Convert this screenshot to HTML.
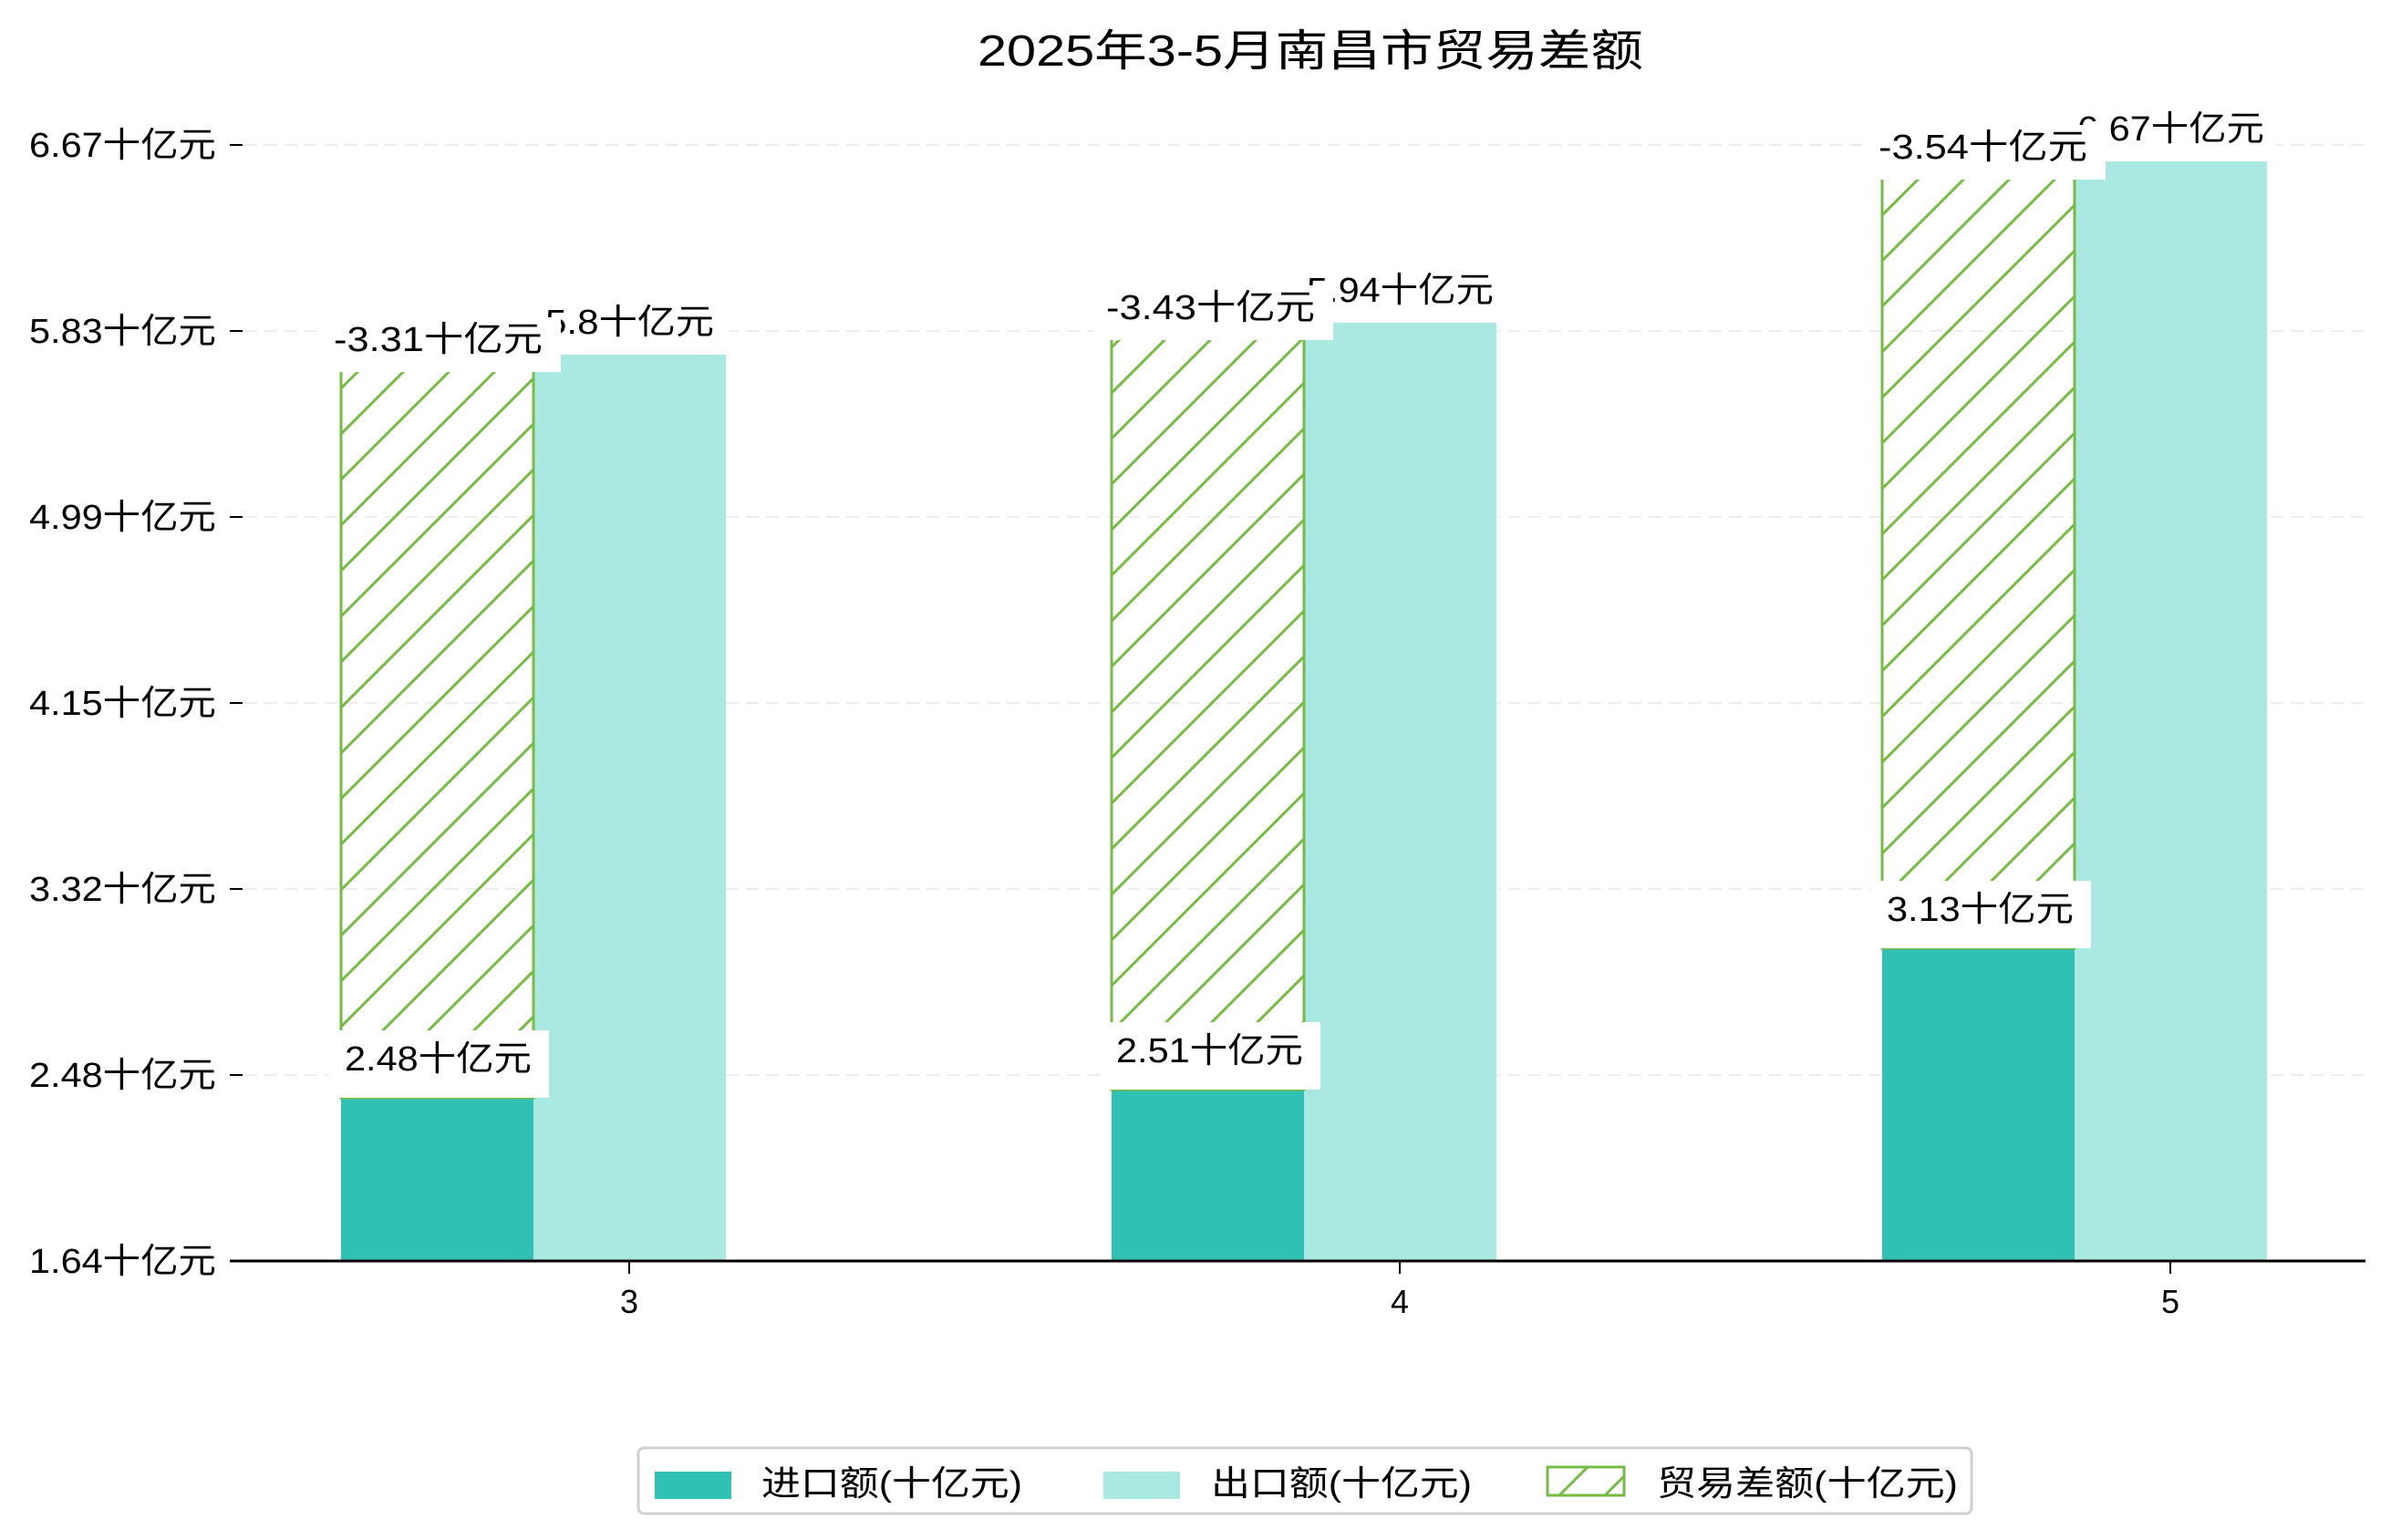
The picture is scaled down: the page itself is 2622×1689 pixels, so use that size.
<!DOCTYPE html>
<html><head><meta charset="utf-8"><style>
html,body{margin:0;padding:0;background:#fff;}
svg{display:block;}
text{font-family:"Liberation Sans","Noto Sans CJK SC",sans-serif;fill:#000;}
</style></head><body>
<svg width="2622" height="1689" viewBox="0 0 2622 1689" xmlns="http://www.w3.org/2000/svg">
<defs>
<pattern id="h" patternUnits="userSpaceOnUse" width="50" height="50">
<line x1="-5" y1="55" x2="55" y2="-5" stroke="#76bb43" stroke-width="3"/>
<line x1="-30" y1="30" x2="30" y2="-30" stroke="#76bb43" stroke-width="3"/>
<line x1="20" y1="80" x2="80" y2="20" stroke="#76bb43" stroke-width="3"/>
</pattern>
</defs>
<rect width="2622" height="1689" fill="#fff"/>
<text x="1072" y="72" font-size="48" textLength="730" lengthAdjust="spacingAndGlyphs">2025年3-5月南昌市贸易差额</text>
<g stroke="#eeeeee" stroke-width="2" stroke-dasharray="14,8">
<line x1="268" y1="159" x2="2594" y2="159"/>
<line x1="268" y1="363" x2="2594" y2="363"/>
<line x1="268" y1="567" x2="2594" y2="567"/>
<line x1="268" y1="771" x2="2594" y2="771"/>
<line x1="268" y1="975" x2="2594" y2="975"/>
<line x1="268" y1="1179" x2="2594" y2="1179"/>
</g>
<g stroke="#000" stroke-width="2">
<line x1="252" y1="159" x2="266" y2="159"/>
<line x1="252" y1="363" x2="266" y2="363"/>
<line x1="252" y1="567" x2="266" y2="567"/>
<line x1="252" y1="771" x2="266" y2="771"/>
<line x1="252" y1="975" x2="266" y2="975"/>
<line x1="252" y1="1179" x2="266" y2="1179"/>
<line x1="252" y1="1383" x2="266" y2="1383"/>
</g>
<g font-size="38">
<text x="32" y="172" textLength="205" lengthAdjust="spacingAndGlyphs">6.67十亿元</text>
<text x="32" y="376" textLength="205" lengthAdjust="spacingAndGlyphs">5.83十亿元</text>
<text x="32" y="580" textLength="205" lengthAdjust="spacingAndGlyphs">4.99十亿元</text>
<text x="32" y="784" textLength="205" lengthAdjust="spacingAndGlyphs">4.15十亿元</text>
<text x="32" y="988" textLength="205" lengthAdjust="spacingAndGlyphs">3.32十亿元</text>
<text x="32" y="1192" textLength="205" lengthAdjust="spacingAndGlyphs">2.48十亿元</text>
<text x="32" y="1396" textLength="205" lengthAdjust="spacingAndGlyphs">1.64十亿元</text>
</g>
<g fill="#31c1b4">
<rect x="374" y="1204" width="211" height="179"/>
<rect x="1219" y="1195" width="211" height="188"/>
<rect x="2064" y="1040" width="211" height="343"/>
</g>
<g fill="#aae8e2">
<rect x="585" y="389" width="211" height="994"/>
<rect x="1430" y="354" width="211" height="1029"/>
<rect x="2275" y="177" width="211" height="1206"/>
</g>
<g fill="url(#h)" stroke="#76bb43" stroke-width="3">
<rect x="374" y="389" width="211" height="815"/>
<rect x="1219" y="354" width="211" height="841"/>
<rect x="2064" y="177" width="211" height="863"/>
</g>
<g font-size="38">
<rect x="598" y="328" width="202" height="61" fill="#fff"/>
<text x="598" y="366" textLength="185" lengthAdjust="spacingAndGlyphs">5.8十亿元</text>
<rect x="1443" y="293" width="207" height="61" fill="#fff"/>
<text x="1433" y="331" textLength="205" lengthAdjust="spacingAndGlyphs">5.94十亿元</text>
<rect x="2288" y="116" width="207" height="61" fill="#fff"/>
<text x="2278" y="154" textLength="205" lengthAdjust="spacingAndGlyphs">6.67十亿元</text>
<rect x="353" y="348" width="262" height="60" fill="#fff"/>
<text x="366" y="385" textLength="229" lengthAdjust="spacingAndGlyphs">-3.31十亿元</text>
<rect x="1200" y="313" width="262" height="60" fill="#fff"/>
<text x="1213" y="350" textLength="229" lengthAdjust="spacingAndGlyphs">-3.43十亿元</text>
<rect x="2047" y="137" width="262" height="60" fill="#fff"/>
<text x="2060" y="174" textLength="229" lengthAdjust="spacingAndGlyphs">-3.54十亿元</text>
<rect x="361" y="1130" width="241" height="74" fill="#fff"/>
<text x="378" y="1174" textLength="205" lengthAdjust="spacingAndGlyphs">2.48十亿元</text>
<rect x="1207" y="1121" width="241" height="74" fill="#fff"/>
<text x="1224" y="1165" textLength="205" lengthAdjust="spacingAndGlyphs">2.51十亿元</text>
<rect x="2052" y="966" width="241" height="74" fill="#fff"/>
<text x="2069" y="1010" textLength="205" lengthAdjust="spacingAndGlyphs">3.13十亿元</text>
</g>
<line x1="252" y1="1383" x2="2594" y2="1383" stroke="#000" stroke-width="3"/>
<g stroke="#000" stroke-width="2">
<line x1="690" y1="1383" x2="690" y2="1397"/>
<line x1="1535" y1="1383" x2="1535" y2="1397"/>
<line x1="2380" y1="1383" x2="2380" y2="1397"/>
</g>
<g font-size="36" text-anchor="middle">
<text x="690" y="1440">3</text>
<text x="1535" y="1440">4</text>
<text x="2380" y="1440">5</text>
</g>
<rect x="700" y="1588" width="1462" height="72" rx="6" fill="#fff" stroke="#d0d0d0" stroke-width="3"/>
<rect x="718" y="1614" width="84" height="30" fill="#31c1b4"/>
<rect x="1210" y="1614" width="84" height="30" fill="#aae8e2"/>
<rect x="1697" y="1609" width="84" height="31" fill="url(#h)" stroke="#76bb43" stroke-width="3"/>
<g font-size="38">
<text x="835" y="1640" textLength="286" lengthAdjust="spacingAndGlyphs">进口额(十亿元)</text>
<text x="1328" y="1640" textLength="286" lengthAdjust="spacingAndGlyphs">出口额(十亿元)</text>
<text x="1817" y="1640" textLength="330" lengthAdjust="spacingAndGlyphs">贸易差额(十亿元)</text>
</g>
</svg>
</body></html>
